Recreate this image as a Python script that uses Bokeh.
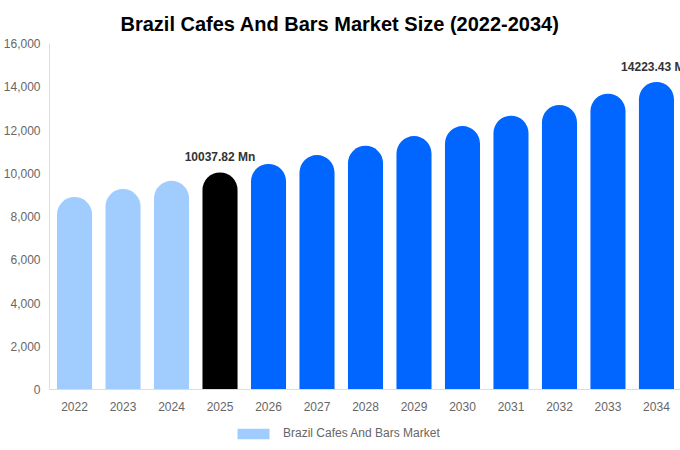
from bokeh.plotting import figure
from bokeh.layouts import column
from bokeh.models import Range1d, FixedTicker, NumeralTickFormatter, Legend, LegendItem, ColumnDataSource, Title
from bokeh.core.properties import value
from bokeh.embed import file_html
from bokeh.resources import INLINE

years = [2022, 2023, 2024, 2025, 2026, 2027, 2028, 2029, 2030, 2031, 2032, 2033, 2034]
market_size = [8900, 9270, 9650, 10037.82, 10430, 10840, 11270, 11720, 12180, 12660, 13160, 13680, 14223.43]
y_ticks = [0, 2000, 4000, 6000, 8000, 10000, 12000, 14000, 16000]
series_name = "Brazil Cafes And Bars Market"
title_text = "Brazil Cafes And Bars Market Size (2022-2034)"
label_years = [2025, 2034]

LIGHT = "#a0cdfd"
BLACK = "#000000"
BLUE = "#0066ff"
FONT = "Liberation Sans"

colors = [LIGHT if y < 2025 else (BLACK if y == 2025 else BLUE) for y in years]

src = ColumnDataSource(dict(x=years, top=market_size, color=colors))

p = figure(width=680, height=415, x_range=Range1d(2021.4837, 2034.4957), y_range=Range1d(0, 16000),
           output_backend="svg", toolbar_location=None,
           min_border_left=0, min_border_right=0, min_border_top=43, min_border_bottom=26)
p.title = None
p.add_layout(Title(text=title_text, align="left", text_font=FONT, text_font_size="20px",
                   text_font_style="bold", text_color="#000000", offset=71, standoff=17), "above")

p.vbar(x="x", top="top", bottom=0, width=0.723, source=src, fill_color="color", line_color=None,
       border_radius=(18, 18, 0, 0))

lab_x = [y for y in years if y in label_years]
lab_v = [v for y, v in zip(years, market_size) if y in label_years]
lab_t = ["%.2f Mn" % v for v in lab_v]
p.text(x=lab_x, y=lab_v, text=lab_t, text_font=value(FONT), text_font_size="12px", text_font_style="bold",
       text_color="#333333", text_align="center", text_baseline="middle", y_offset=-15)

p.xaxis.ticker = FixedTicker(ticks=years)
p.yaxis.ticker = FixedTicker(ticks=y_ticks)
p.yaxis.formatter = NumeralTickFormatter(format="0,0")
for ax in (p.xaxis, p.yaxis):
    ax.axis_line_color = "#dddddd"
    ax.major_tick_line_color = None
    ax.minor_tick_line_color = None
    ax.major_tick_out = 0
    ax.major_tick_in = 0
    ax.major_label_text_font = FONT
    ax.major_label_text_font_size = "12px"
    ax.major_label_text_color = "#666666"
p.yaxis.major_label_standoff = 9
p.xaxis.major_label_standoff = 12
p.xgrid.grid_line_color = None
p.ygrid.grid_line_color = None
p.outline_line_color = None
p.background_fill_color = "white"
p.border_fill_color = "white"

# legend strip
lg = figure(width=680, height=35, x_range=Range1d(0, 1), y_range=Range1d(0, 1),
            output_backend="svg", toolbar_location=None, min_border=0)
lg.axis.visible = False
lg.grid.visible = False
lg.outline_line_color = None
legend_swatch = lg.vbar(x=[10], top=[0], bottom=[0], width=0.7, fill_color=LIGHT, line_color=None)
legend = Legend(items=[LegendItem(label=series_name, renderers=[legend_swatch])],
                orientation="horizontal", location=(184, 10),
                glyph_width=40, glyph_height=13, label_text_font=FONT,
                label_text_font_size="12px", label_text_color="#666666", border_line_color=None,
                background_fill_alpha=0,
                padding=0, margin=0, spacing=0, label_standoff=10, label_height=13)
lg.add_layout(legend, "center")

layout = column(p, lg, spacing=0)
open("out.html", "w").write(file_html(layout, INLINE))
